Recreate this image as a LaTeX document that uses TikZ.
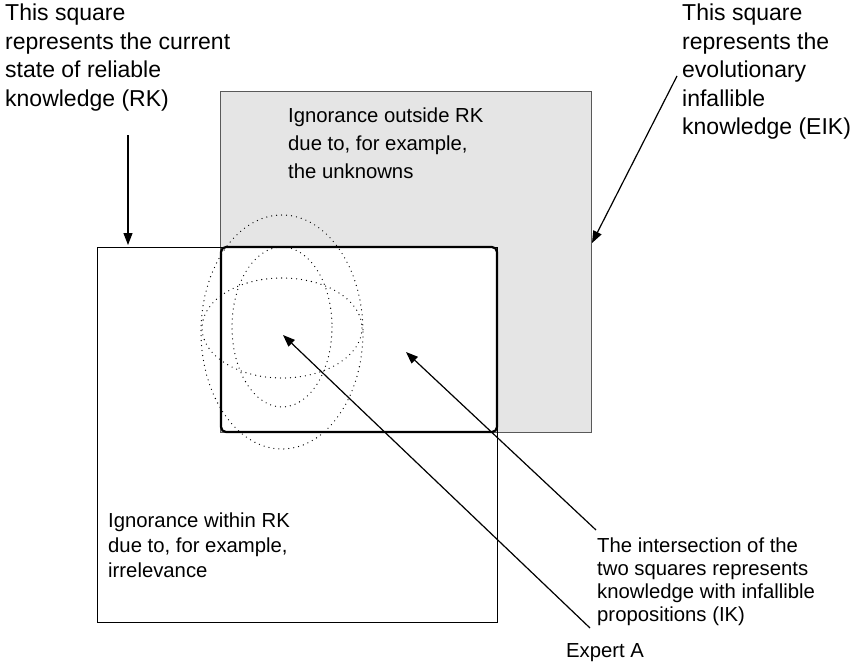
\documentclass[tikz,border=0pt]{standalone}
\usepackage{fontspec}
\setmainfont{Liberation Sans}
\usetikzlibrary{arrows.meta}
\begin{document}
\begin{tikzpicture}[x=1pt,y=-1pt,
  label text/.style={anchor=north west,inner sep=0pt,align=left,
    font=\fontsize{20.3}{23}\selectfont},
  corner text/.style={label text,font=\fontsize{23}{28.5}\selectfont},
  pointer/.style={line width=1.2pt,-{Triangle[length=12pt,width=9pt]}},
  fuzzy/.style={line width=1.3pt,line cap=round,dash pattern=on 0pt off 5pt},
]
\useasboundingbox (0,0) rectangle (863,669);

% evolutionary infallible knowledge (EIK)
\path[fill=black!10,draw=black!65,line width=1pt] (220,92) rectangle (591,432);
% reliable knowledge (RK)
\draw[line width=1pt] (97,247) rectangle (497,622);
% intersection (IK)
\draw[fill=white,line width=2.2pt,rounded corners=5pt] (221,247) rectangle (497,432);

% experts' knowledge regions
\draw[fuzzy] (282,332) ellipse [x radius=81,y radius=117];
\draw[fuzzy] (282,328) ellipse [x radius=80,y radius=50];
\draw[fuzzy] (282,327) ellipse [x radius=50,y radius=80];

% labels
\node[corner text] (rk) at (5,4) {This square\\represents the current\\state of reliable\\knowledge (RK)};
\node[corner text] (eik) at (682,4) {This square\\represents the\\evolutionary\\infallible\\knowledge (EIK)};
\node[label text,font=\fontsize{20.3}{28}\selectfont] (out) at (288,108) {Ignorance outside RK\\due to, for example,\\the unknowns};
\node[label text,font=\fontsize{20.3}{25}\selectfont] (within) at (108,513) {Ignorance within RK\\due to, for example,\\irrelevance};
\node[label text] (ik) at (597,538) {The intersection of the\\two squares represents\\knowledge with infallible\\propositions (IK)};
\node[label text] (exp) at (566,643) {Expert A};

% pointers
\coordinate (rkS) at (128,135);
\coordinate (rkT) at (128,245);
\coordinate (eikS) at (677,76);
\coordinate (eikT) at (592,243);
\coordinate (ikS) at (596,530);
\coordinate (ikT) at (406,352);
\coordinate (expS) at (590,628);
\coordinate (expT) at (283,335);
\draw[pointer] (rkS) -- (rkT);
\draw[pointer] (eikS) -- (eikT);
\draw[pointer] (ikS) -- (ikT);
\draw[pointer] (expS) -- (expT);
\end{tikzpicture}
\end{document}
